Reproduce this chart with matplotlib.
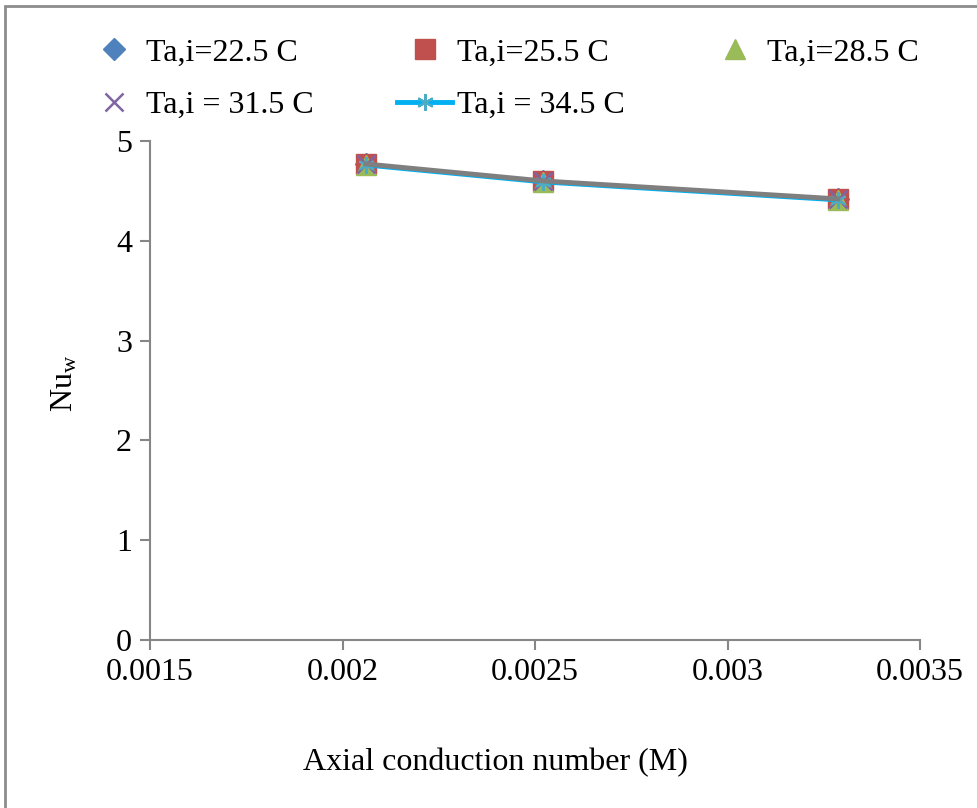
import matplotlib
matplotlib.use('Agg')
import matplotlib.pyplot as plt
from matplotlib.patches import Rectangle

plt.rcParams['font.family'] = 'Liberation Serif'
plt.rcParams['mathtext.fontset'] = 'custom'
plt.rcParams['mathtext.rm'] = 'Liberation Serif'
plt.rcParams['mathtext.it'] = 'Liberation Serif'

# Data
m_values = [0.002061, 0.002521, 0.003287]
nu_22_5 = [4.77, 4.60, 4.42]
nu_25_5 = [4.77, 4.60, 4.42]
nu_28_5 = [4.76, 4.59, 4.41]
nu_31_5 = [4.77, 4.60, 4.42]
nu_34_5 = [4.76, 4.59, 4.41]

x_ticks = [0.0015, 0.002, 0.0025, 0.003, 0.0035]
x_tick_labels = ['0.0015', '0.002', '0.0025', '0.003', '0.0035']
y_ticks = [0, 1, 2, 3, 4, 5]

W, H = 977, 808
fig = plt.figure(figsize=(W / 100, H / 100), dpi=100)
ax = fig.add_axes([150 / W, 1 - 640 / H, 770 / W, 499 / H])

h1, = ax.plot(m_values, nu_22_5, linestyle='none', marker='D', markersize=11, color='#4F81BD', label='Ta,i=22.5 C')
h2, = ax.plot(m_values, nu_25_5, linestyle='none', marker='s', markersize=14, color='#C0504D', label='Ta,i=25.5 C')
h3, = ax.plot(m_values, nu_28_5, linestyle='none', marker='^', markersize=14, color='#9BBB59', label='Ta,i=28.5 C')
h4, = ax.plot(m_values, nu_31_5, linestyle='none', marker='x', markersize=13, markeredgewidth=1.8, color='#8064A2', label='Ta,i = 31.5 C')
h5, = ax.plot(m_values, nu_34_5, linestyle='-', linewidth=3.5, marker=(6, 2, 0), markersize=12,
              markeredgewidth=1.5, markeredgecolor='#4BACC6', color='#00B0F0', label='Ta,i = 34.5 C')
# grey connecting line drawn over the markers
ax.plot(m_values, nu_31_5, linestyle='-', linewidth=3.5, color='#7F7F7F', zorder=5, label='_nolegend_')

ax.set_xlim(0.0015, 0.0035)
ax.set_ylim(0, 5)
ax.set_xticks(x_ticks)
ax.set_xticklabels(x_tick_labels)
ax.set_yticks(y_ticks)

for side in ['top', 'right']:
    ax.spines[side].set_visible(False)
for side in ['left', 'bottom']:
    ax.spines[side].set_color('#868686')
    ax.spines[side].set_linewidth(1.5)
ax.tick_params(direction='out', length=7, width=1.5, color='#868686', labelsize=23, pad=6)

ax.set_xlabel('Axial conduction number (M)', fontsize=23, labelpad=44, x=0.449)
ax.set_ylabel('Nu$_{\\mathrm{w}}$', fontsize=23, labelpad=26, y=0.515)

# row-wise legend order: 3 columns, 2 rows
handles = [h1, h4, h2, h5, h3]
fig.legend(handles, [h.get_label() for h in handles], loc='upper left',
           bbox_to_anchor=(87 / W, 1 - 38 / H), ncol=3, frameon=False,
           fontsize=23, handlelength=1.72, handletextpad=0.14, columnspacing=2.6,
           labelspacing=0.72, borderaxespad=0, borderpad=0)

# outer frame of the chart area
fig.patches.append(Rectangle((5 / W, -0.05), 1.1, 1 - 6 / H + 0.05, transform=fig.transFigure,
                             fill=False, edgecolor='#8C8C8C', linewidth=2))

fig.savefig('out.png', dpi=100)
